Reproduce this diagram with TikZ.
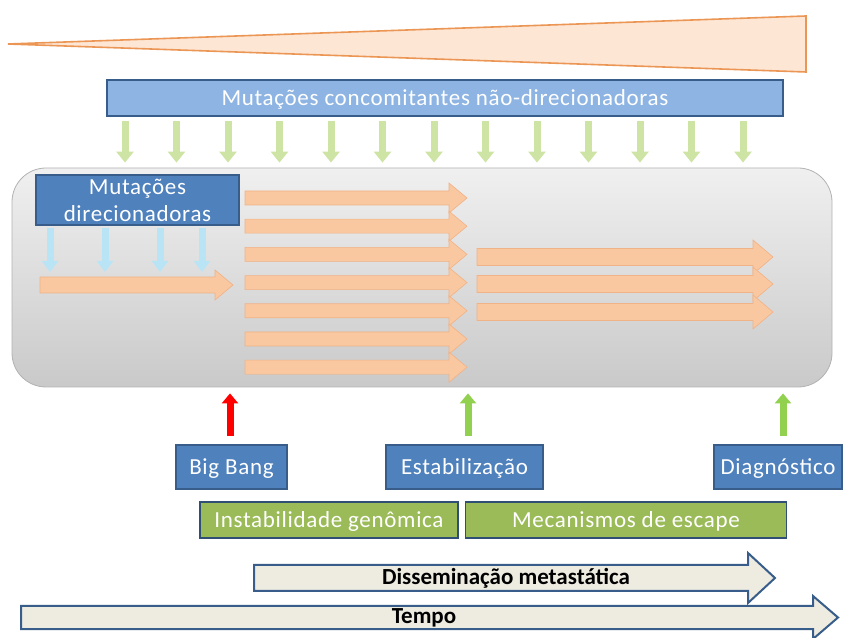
\documentclass[tikz,border=0pt]{standalone}
\usepackage{fontspec}
\setmainfont{Carlito}
\usepackage{tikz}
\usetikzlibrary{arrows.meta, positioning, calc}
\definecolor{boxblue}{RGB}{79,129,189}
\definecolor{edgeblue}{RGB}{56,93,138}
\definecolor{paleblue}{RGB}{141,180,226}
\definecolor{boxgreen}{RGB}{155,187,89}
\definecolor{peach}{RGB}{250,200,160}
\definecolor{peachedge}{RGB}{240,178,135}
\definecolor{wedgefill}{RGB}{253,230,212}
\definecolor{wedgeedge}{RGB}{236,150,85}
\definecolor{paleleaf}{RGB}{205,228,165}
\definecolor{icyblue}{RGB}{185,228,245}
\definecolor{brightgreen}{RGB}{146,208,80}
\definecolor{beige}{RGB}{238,236,225}
% horizontal block arrow: style, x1, x2, y, shaft half, head half, head length
\newcommand{\blockarrow}[7]{%
  \draw[#1] (#2,#4-#5) -- (#3-#7,#4-#5) -- (#3-#7,#4-#6) -- (#3,#4)
    -- (#3-#7,#4+#6) -- (#3-#7,#4+#5) -- (#2,#4+#5) -- cycle;}
\newcommand{\labelfont}{\fontsize{23}{27}\selectfont\addfontfeature{LetterSpace=3}}
\tikzset{
  capline/.style={text height=15pt, text depth=0pt},
  tagbox/.style={
    rectangle, draw=edgeblue, line width=1.5pt, fill=boxblue,
    text=white, inner sep=0pt, minimum height=44pt, font=\labelfont
  },
  phasebox/.style={
    rectangle, draw=edgeblue!85!black, line width=1.5pt, fill=boxgreen,
    text=white, inner sep=0pt, minimum height=36pt, font=\labelfont, capline
  },
  banner/.style={
    rectangle, draw=edgeblue, line width=1.5pt, fill=paleblue,
    text=white, inner sep=0pt, font=\labelfont, capline
  },
  panel/.style={
    rectangle, rounded corners=34pt, draw=gray!60, line width=0.8pt,
    top color=gray!12, bottom color=gray!42
  },
  wedge/.style={draw=wedgeedge, line width=1.6pt, fill=wedgefill, line join=miter},
  clone/.style={draw=peachedge, line width=0.6pt, fill=peach},
  timearrow/.style={draw=edgeblue, line width=2pt, fill=beige},
  timetext/.style={font=\fontsize{23}{26}\selectfont\bfseries, text=black},
  leafarrow/.style={line width=7pt, draw=paleleaf, shorten <=4pt, shorten >=5pt,
    -{Triangle[length=11pt,width=17pt]}},
  icyarrow/.style={line width=7pt, draw=icyblue, shorten <=2pt,
    -{Triangle[length=11pt,width=16pt]}},
  uparrow/.style={line width=7pt, shorten <=8pt, shorten >=6pt,
    -{Triangle[length=10pt,width=16pt]}},
}

\begin{document}
\begin{tikzpicture}[x=1pt,y=1pt]
  \useasboundingbox (0,0) rectangle (843,637);

  % growing wedge
  \draw[wedge] (8,593) -- (806,621) -- (806,565) -- cycle;

  \node (concom) [banner, minimum width=676pt, minimum height=36pt] at (445,539)
    {Mutações concomitantes não-direcionadoras};
  \node (panel)  [panel, minimum width=820pt, minimum height=219pt] at (422,359.5) {};

  \foreach \k [evaluate=\k as \xx using 125+51.5*\k] in {0,...,12}
    \draw[leafarrow] (concom.south -| \xx,0) -- (panel.north -| \xx,0);

  \node (direc) [tagbox, minimum width=203pt, minimum height=50pt, align=center] at (137.5,437)
    {Mutações\\direcionadoras};
  \foreach \x in {50,105,160,202}
    \draw[icyarrow] (direc.south -| \x,0) -- (\x,365);

  % clones
  \blockarrow{clone}{40}{233}{352}{8}{15}{18}
  \foreach \k in {0,...,6}{
    \blockarrow{clone}{245}{467}{439-28.2*\k}{7}{15}{18}
  }
  \foreach \y in {380,353,325}{
    \blockarrow{clone}{477}{773}{\y}{8.5}{17}{20}
  }

  % events
  \node (bigbang) [tagbox, capline, minimum width=111pt] at (231.5,170) {Big Bang};
  \node (estab)   [tagbox, capline, minimum width=157pt] at (464.5,170) {Estabilização};
  \node (diag)    [tagbox, capline, minimum width=128pt] at (778,170)   {Diagnóstico};

  \draw[uparrow, draw=red]         (bigbang.north -| 230,0) -- (panel.south -| 230,0);
  \draw[uparrow, draw=brightgreen] (estab.north -| 468,0)   -- (panel.south -| 468,0);
  \draw[uparrow, draw=brightgreen] (diag.north -| 783,0)    -- (panel.south -| 783,0);

  \node (instab) [phasebox, minimum width=258pt] at (329,117) {Instabilidade genômica};
  \node (escape) [phasebox, minimum width=321pt, right=6pt of instab] {Mecanismos de escape};

  % time axes
  \blockarrow{timearrow}{254}{775}{59}{13}{25}{27}
  \node (dissem) [timetext] at (506,59) {Disseminação metastática};
  \blockarrow{timearrow}{21}{838}{19.5}{11.5}{21.5}{25}
  \node (tempo) [timetext] at (424,19.5) {Tempo};
\end{tikzpicture}
\end{document}
